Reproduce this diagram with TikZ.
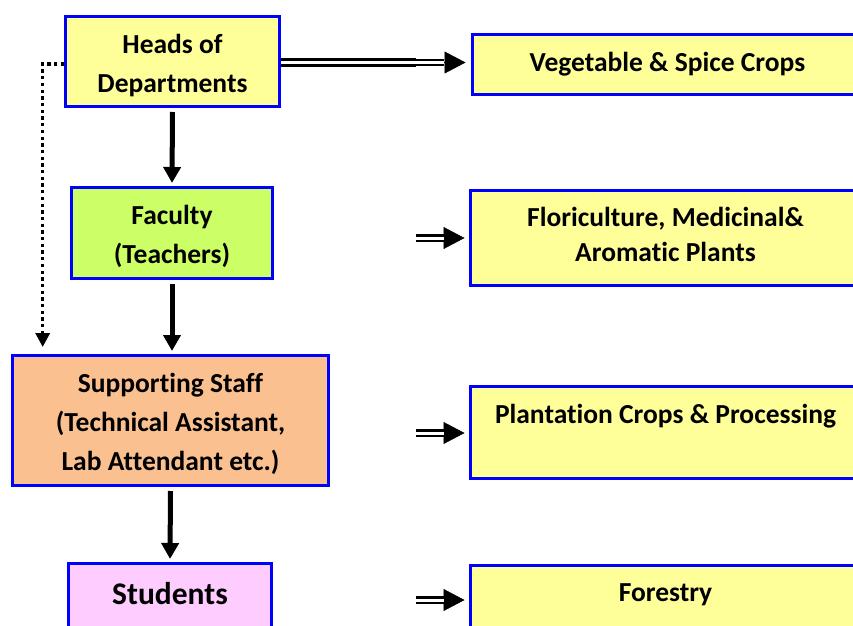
\documentclass[tikz,border=0pt]{standalone}
\usepackage{fontspec}
\setmainfont{Carlito}[Ligatures=NoCommon]
\usetikzlibrary{arrows.meta}
\definecolor{boxyellow}{HTML}{FFFF99}
\definecolor{boxgreen}{HTML}{CCFF66}
\definecolor{boxpeach}{HTML}{FAC090}
\definecolor{boxpink}{HTML}{FFCCFF}
\definecolor{boxblue}{HTML}{0000FF}
\newcommand\toppad{\rule{0pt}{27bp}}
\newcommand\botpad{\rule[-8bp]{0pt}{1bp}}
\begin{document}
\begin{tikzpicture}[x=1bp,y=-1bp,
  box/.style={draw=boxblue, line width=3bp, align=center, inner sep=0pt,
    font=\bfseries\fontsize{27.5bp}{39bp}\selectfont},
  rbox/.style={box, fill=boxyellow, anchor=west, minimum width=391bp},
  down/.style={line width=5bp, -{Triangle[length=16bp,width=17bp]},
    shorten <=4bp, shorten >=3bp},
  dbl/.style={double, line width=2.3bp, double distance=3bp},
  wdbl/.style={double, line width=2.7bp, double distance=2.7bp},
  tipline/.style={line width=0.5bp, -{Triangle[length=21bp,width=22bp]}},
  dots/.style={line width=3.3bp, dash pattern=on 3.3bp off 3.4bp,
    -{Triangle[length=14bp,width=14bp]}}]
\useasboundingbox (0,0) rectangle (853,626);

% left column
\node[box, fill=boxyellow, minimum width=214bp, minimum height=90bp] (hd) at (172.5,61.5) {\toppad Heads of\\Departments};
\node[box, fill=boxgreen, minimum width=201bp, minimum height=91bp] (fac) at (172,233) {\toppad Faculty\\(Teachers)};
\node[box, fill=boxpeach, minimum width=316bp, minimum height=130bp] (ss) at (170.5,420.5) {\toppad Supporting Staff\\(Technical Assistant,\\Lab Attendant etc.)};
\node[box, fill=boxpink, minimum width=203bp, minimum height=80bp, text height=22bp, text depth=21bp,
  font=\bfseries\fontsize{31.5bp}{37bp}\selectfont] (st) at (170,603.5) {Students};

% right column
\node[rbox, minimum height=60bp] (veg) at (470.5,64.5) {Vegetable \& Spice Crops};
\node[rbox, minimum height=95bp, font=\bfseries\fontsize{27.5bp}{35bp}\selectfont] (flo) at (468.5,238) {Floriculture, Medicinal\&\\Aromatic Plants\botpad};
\node[rbox, minimum height=92bp, font=\bfseries\fontsize{27.5bp}{37bp}\selectfont] (pl) at (468.5,432.5) {Plantation Crops \& Processing\\\mbox{}};
\node[rbox, minimum height=92bp, font=\bfseries\fontsize{27.5bp}{37bp}\selectfont] (fo) at (468.5,611) {Forestry\\\mbox{}};

% vertical arrows
\draw[down] (hd.south) -- (fac.north);
\draw[down] (fac.south) -- (fac.south |- ss.north);
\draw[down] (ss.south) -- (st.north);

% dotted connector
\coordinate (dend) at (42.7,347);
\draw[dots] ([yshift=-2.5bp]hd.west) -| (dend);

% double arrows
\coordinate (m0) at (416,62.5);
\coordinate (m1) at (416,238);
\coordinate (m2) at (416,433);
\coordinate (m3) at (416,600);

\draw[wdbl] (hd.east |- m0) -- (m0);
\draw[tipline, shorten >=5bp] (m0) -- (m0 -| veg.west);
\draw[dbl, shorten >=27bp] (m0) -- (m0 -| veg.west);

\draw[tipline, shorten >=4bp] (m1) -- (m1 -| flo.west);
\draw[dbl, shorten >=25bp] (m1) -- (m1 -| flo.west);

\draw[tipline, shorten >=4bp] (m2) -- (m2 -| pl.west);
\draw[dbl, shorten >=25bp] (m2) -- (m2 -| pl.west);

\draw[tipline, shorten >=4bp] (m3) -- (m3 -| fo.west);
\draw[dbl, shorten >=25bp] (m3) -- (m3 -| fo.west);
\end{tikzpicture}
\end{document}
